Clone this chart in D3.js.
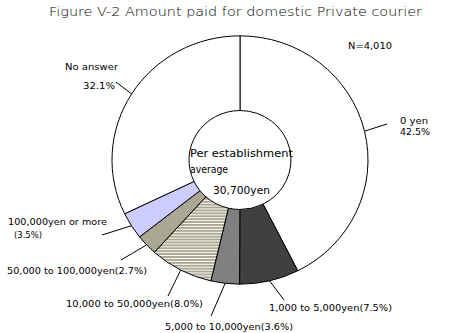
<!DOCTYPE html>
<html><head><meta charset="utf-8">
<script src="https://cdn.jsdelivr.net/npm/d3@7"></script>
<style>body{margin:0;background:#fff}svg{display:block}text{font-family:"DejaVu Sans",sans-serif;fill:#000}</style>
</head><body>
<script>
const categories = ["0 yen","1,000 to 5,000yen","5,000 to 10,000yen","10,000 to 50,000yen","50,000 to 100,000yen","100,000yen or more","No answer"];
const values = [42.5, 7.5, 3.6, 8.0, 2.7, 3.5, 32.1];
const fills = ["#ffffff","#404040","#808080","url(#stripes)","#aaa892","#ccccff","#ffffff"];
const title = "Figure V-2 Amount paid for domestic Private courier";
const nLabel = "N=4,010";
const centerLines = ["Per establishment","average","30,700yen"];

const W = 462, H = 333;
const svg = d3.select("body").append("svg").attr("width", W).attr("height", H);
const defs = svg.append("defs");
const pat = defs.append("pattern").attr("id","stripes").attr("patternUnits","userSpaceOnUse").attr("width",4).attr("height",3);
pat.append("rect").attr("width",4).attr("height",3).attr("fill","#fff");
pat.append("rect").attr("width",4).attr("height",2).attr("fill","#aaa892");

svg.append("text").attr("x",49).attr("y",16).attr("font-size",13).attr("font-weight",200).attr("textLength",373).attr("lengthAdjust","spacingAndGlyphs").text(title);

const cx = 240, cy = 160, rO = 128, rI = 51, sy = 0.97;
const pie = d3.pie().sort(null).value(d => d)(values);
const arc = d3.arc().innerRadius(rI).outerRadius(rO);
const g = svg.append("g").attr("transform",`translate(${cx},${cy}) scale(1,${sy})`);
g.selectAll("path").data(pie).join("path").attr("d",arc).attr("fill",(d,i)=>fills[i])
  .attr("stroke","#000").attr("stroke-width",1).attr("vector-effect","non-scaling-stroke");

// label layout: [text, x, baseline, width] per line, and leader outer end
const layout = [
  {lines:[["0 yen",400,123.5,28],["42.5%",400,134.5,30]], end:[387,124]},
  {lines:[["1,000 to 5,000yen(7.5%)",269,311,123]], end:[284,300]},
  {lines:[["5,000 to 10,000yen(3.6%)",165,330,128]], end:[211,316]},
  {lines:[["10,000 to 50,000yen(8.0%)",66,306.5,137]], end:[168,296]},
  {lines:[["50,000 to 100,000yen(2.7%)",7,274,140]], end:[121,260]},
  {lines:[["100,000yen or more",8,225,99],["(3.5%)",14,238,28]], end:[102,235]},
  {lines:[["No answer",65,69.5,53],["32.1%",83,88.5,32]], end:[116,82]}
];
pie.forEach((d,i) => {
  const a = (d.startAngle + d.endAngle)/2;
  const px = cx + rO*Math.sin(a), py = cy - rO*Math.cos(a)*sy;
  const L = layout[i];
  svg.append("line").attr("x1",L.end[0]).attr("y1",L.end[1]).attr("x2",px).attr("y2",py).attr("stroke","#000").attr("stroke-width",1);
  L.lines.forEach(l => {
    svg.append("text").attr("x",l[1]).attr("y",l[2]).attr("font-size",9).attr("textLength",l[3]).attr("lengthAdjust","spacingAndGlyphs").text(l[0]);
  });
});

svg.append("text").attr("x",348).attr("y",48.5).attr("font-size",9).attr("textLength",44).attr("lengthAdjust","spacingAndGlyphs").text(nLabel);
const cpos = [[190,157,103],[190,173,38],[213,194,57]];
centerLines.forEach((t,i)=>{
  svg.append("text").attr("x",cpos[i][0]).attr("y",cpos[i][1]).attr("font-size",11).attr("textLength",cpos[i][2]).attr("lengthAdjust","spacingAndGlyphs").text(t);
});
</script>
</body></html>
